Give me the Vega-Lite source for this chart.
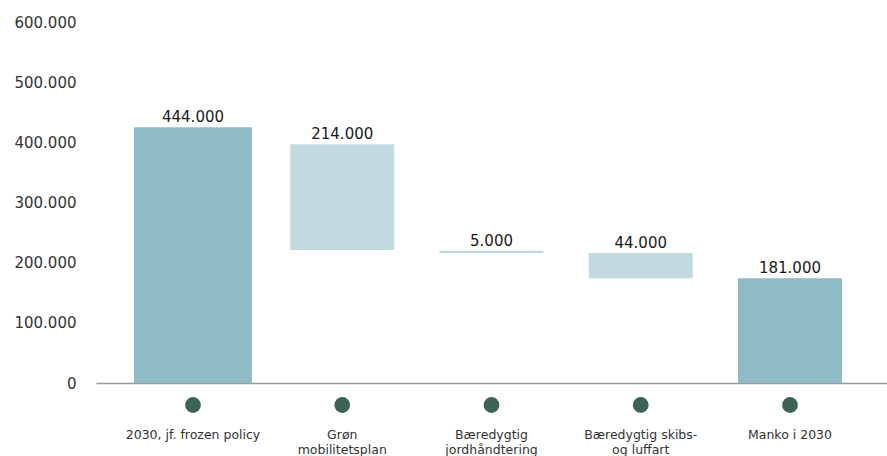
{
  "$schema": "https://vega.github.io/schema/vega-lite/v6.json",
  "width": 791,
  "height": 361,
  "autosize": {"type": "none"},
  "padding": {"left": 96, "top": 22, "right": 0, "bottom": 73},
  "background": "white",
  "config": {
    "view": {"stroke": null},
    "font": "DejaVu Sans"
  },
  "data": {
    "values": [
      {"order": 1, "category": "2030, jf. frozen policy", "start": 0, "end": 425000, "label": "444.000", "type": "total"},
      {"order": 2, "category": "Grøn\nmobilitetsplan", "start": 397000, "end": 221000, "label": "214.000", "type": "change"},
      {"order": 3, "category": "Bæredygtig\njordhåndtering", "start": 220000, "end": 216000, "label": "5.000", "type": "change"},
      {"order": 4, "category": "Bæredygtig skibs-\nog luffart", "start": 216000, "end": 174000, "label": "44.000", "type": "change"},
      {"order": 5, "category": "Manko i 2030", "start": 174000, "end": 0, "label": "181.000", "type": "total"}
    ]
  },
  "transform": [
    {"calculate": "max(datum.start, datum.end)", "as": "top"}
  ],
  "encoding": {
    "x": {
      "field": "category",
      "type": "nominal",
      "sort": {"field": "order"},
      "scale": {"paddingInner": 0.3, "paddingOuter": 0.3},
      "axis": {
        "title": null,
        "labelAngle": 0,
        "ticks": false,
        "domainColor": "#9a9a9a",
        "domainWidth": 1.5,
        "labelPadding": 45,
        "labelBaseline": "top",
        "labelFontSize": 12.5,
        "labelColor": "#333333",
        "labelLineHeight": 15,
        "labelExpr": "split(datum.label, '\\n')"
      }
    }
  },
  "layer": [
    {
      "mark": {"type": "bar"},
      "encoding": {
        "y": {
          "field": "start",
          "type": "quantitative",
          "scale": {"domain": [0, 600000], "nice": false},
          "axis": {
            "title": null,
            "domain": false,
            "ticks": false,
            "grid": false,
            "values": [0, 100000, 200000, 300000, 400000, 500000, 600000],
            "labelPadding": 20,
            "labelFontSize": 15,
            "labelColor": "#333333",
            "labelExpr": "replace(format(datum.value, ','), ',', '.')"
          }
        },
        "y2": {"field": "end"},
        "size": {"condition": {"test": "datum.order == 1", "value": 118}, "value": 104},
        "color": {
          "field": "type",
          "type": "nominal",
          "scale": {"domain": ["total", "change"], "range": ["#8fbcc4", "#c0dadf"]},
          "legend": null
        }
      }
    },
    {
      "mark": {"type": "text", "baseline": "alphabetic", "dy": -5, "fontSize": 15, "color": "#1a1a1a"},
      "encoding": {
        "y": {"field": "top", "type": "quantitative"},
        "text": {"field": "label"}
      }
    },
    {
      "mark": {"type": "point", "filled": true, "size": 250, "color": "#3d6357", "opacity": 1, "yOffset": 22},
      "encoding": {
        "y": {"datum": 0, "type": "quantitative"}
      }
    }
  ]
}
